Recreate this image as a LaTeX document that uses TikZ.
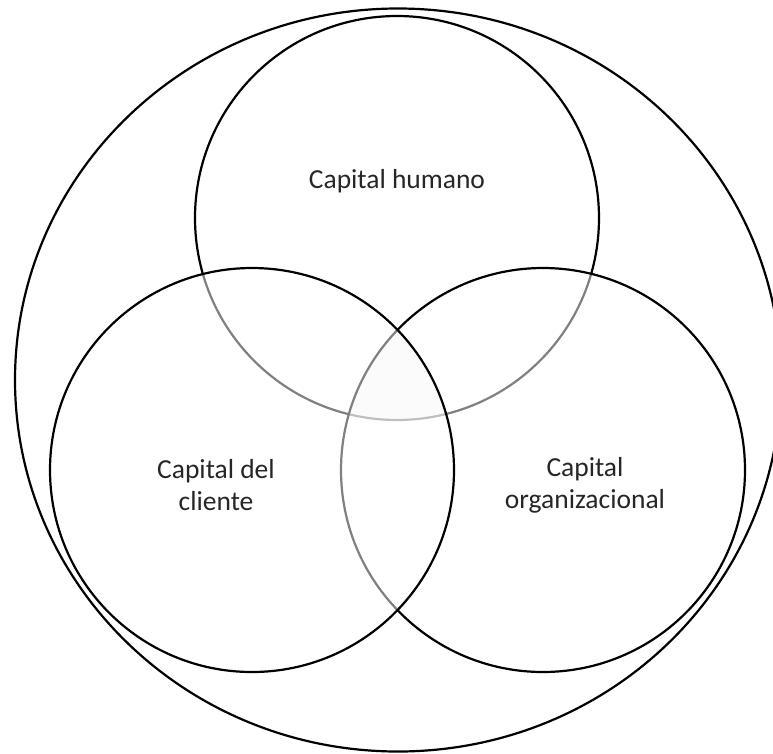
\documentclass[tikz,border=0pt]{standalone}
\usepackage{fontspec}
\setmainfont{Carlito}
\begin{document}
\begin{tikzpicture}[x=1pt,y=-1pt,
  ring/.style={draw=black,line width=2.2pt},
  veil/.style={fill=white,fill opacity=0.5},
  label/.style={align=center,font=\fontsize{27.5}{32}\selectfont,text=black!85}]
\useasboundingbox (0,0) rectangle (773,753);
\clip (0,0) rectangle (773,753);
% centres of the three capital circles
\coordinate (ch) at (397,218);
\coordinate (cc) at (252,470);
\coordinate (co) at (543,470);
% faint shading of the common core
\begin{scope}
  \clip (ch) circle (202);
  \clip (cc) circle (202);
  \fill[black!5] (co) circle (202);
\end{scope}
% outer boundary
\draw[ring] (398,380) ellipse [x radius=383,y radius=371.5];
% capital circles, later ones veil the earlier outlines
\draw[ring] (ch) circle (202);
\filldraw[ring,veil] (co) circle (202);
\filldraw[ring,veil] (cc) circle (202);
% labels
\node[label] (humano) at (397,181) {Capital humano};
\node[label] (cliente) at (216,485) {Capital del\\cliente};
\node[label] (org) at (585,485) {Capital\\organizacional};
\end{tikzpicture}
\end{document}
